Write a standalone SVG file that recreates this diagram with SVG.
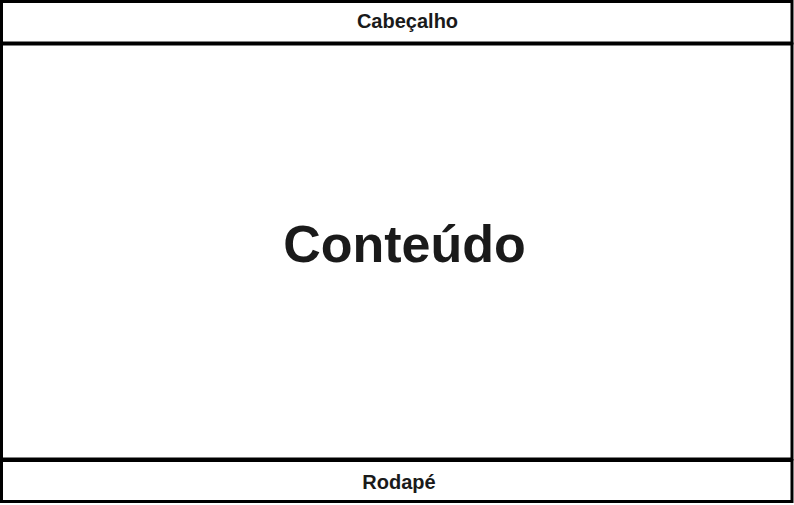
<svg xmlns="http://www.w3.org/2000/svg" width="794" height="505" viewBox="0 0 794 505">
<style>
.box{fill:#fff;stroke:#000;stroke-width:3}
.t{font-family:"Liberation Sans",Arial,sans-serif;font-weight:bold;fill:#1a1a1a;text-anchor:middle}
</style>
<rect width="794" height="505" fill="#fff"/>
<g id="conteudo">
<rect class="box" x="1.5" y="44" width="790.5" height="415"/>
<text class="t" x="404.5" y="262" font-size="52">Conteúdo</text>
</g>
<g id="cabecalho">
<rect class="box" x="1.5" y="1.5" width="790.5" height="41.5"/>
<text class="t" x="407.5" y="28" font-size="20">Cabeçalho</text>
</g>
<g id="rodape">
<rect class="box" x="1.5" y="460.5" width="790.5" height="41"/>
<text class="t" x="399" y="489" font-size="20">Rodapé</text>
</g>
<g id="connectors"></g>
</svg>
